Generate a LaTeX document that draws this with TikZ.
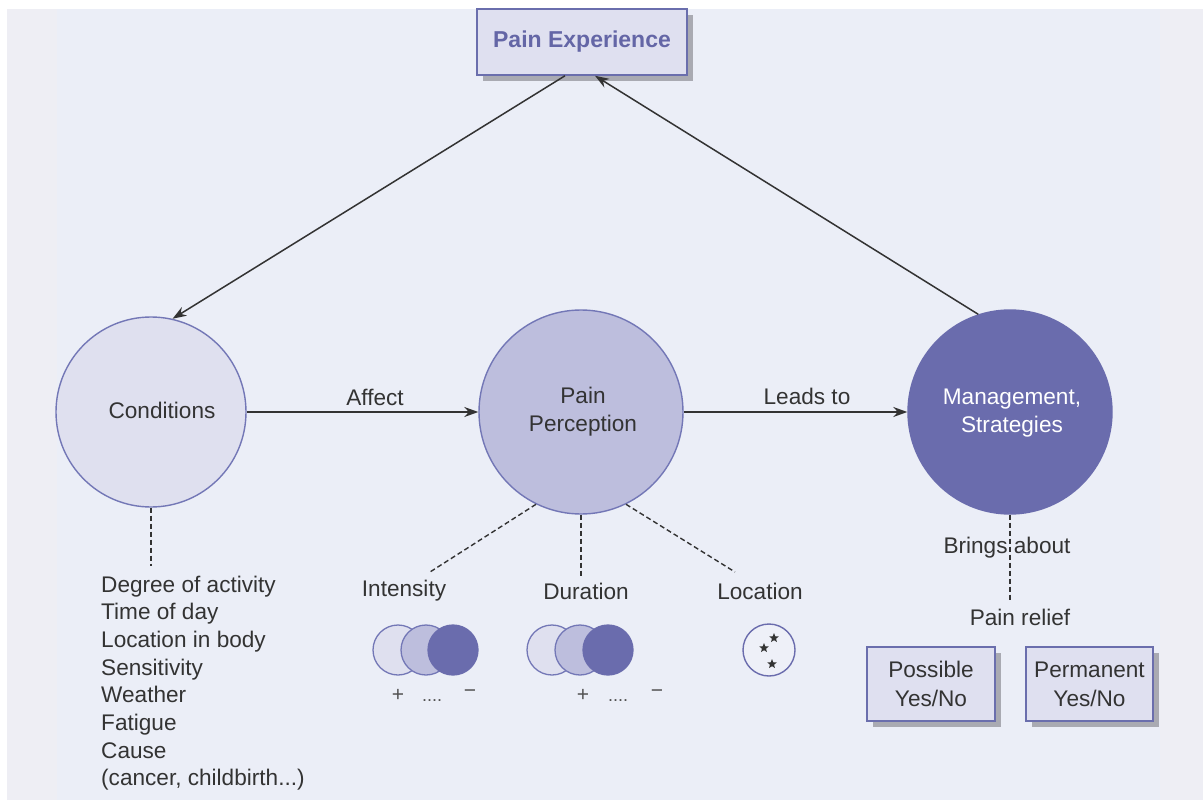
\documentclass[tikz,border=0pt]{standalone}
\usepackage{fontspec}
\setmainfont{Liberation Sans}
\usetikzlibrary{arrows.meta,calc,shadows,shapes.geometric}
\definecolor{bgmain}{HTML}{EBEEF7}
\definecolor{bgside}{HTML}{EEEEF4}
\definecolor{lightfill}{HTML}{DFE0EF}
\definecolor{midfill}{HTML}{BDBEDD}
\definecolor{darkfill}{HTML}{6A6CAD}
\definecolor{rim}{HTML}{7377B6}
\definecolor{boxfill}{HTML}{DFE0F0}
\definecolor{boxrim}{HTML}{6A6EAD}
\definecolor{shade}{HTML}{A9AAB2}
\definecolor{ink}{HTML}{333333}
\definecolor{titleink}{HTML}{6466A6}
\definecolor{locfill}{HTML}{EEF0F8}
\begin{document}
\begin{tikzpicture}[x=1pt,y=-1pt,
  txt/.style={text=ink,font=\fontsize{22.6}{26}\selectfont,inner sep=0pt},
  small/.style={text=ink!85,font=\fontsize{21}{22}\selectfont,inner sep=0pt},
  bigcirc/.style={circle,draw=rim,line width=1.4pt,minimum size=204pt,inner sep=0pt},
  dot/.style={circle,draw=rim,line width=1.3pt,minimum size=50pt,inner sep=0pt},
  shbox/.style={rectangle,draw=boxrim,fill=boxfill,line width=1.5pt,inner sep=0pt,
    drop shadow={shadow xshift=6pt,shadow yshift=-6pt,fill=shade,opacity=1}},
  arr/.style={draw=ink,line width=1.5pt,-{Stealth[length=14pt,width=10pt]}},
  dashline/.style={draw=ink,line width=1.4pt,dash pattern=on 5pt off 3pt},
  starmark/.style={star,star points=5,star point ratio=2.3,fill=ink,minimum size=10pt,inner sep=0pt}]
\useasboundingbox (0,0) rectangle (1203,800);
% backdrop panels
\fill[bgside] (7,9) rectangle (1203,800);
\fill[bgmain] (57,9) rectangle (1160,800);

% title box
\node[shbox,minimum width=210pt,minimum height=66pt] (pe) at (582,42)
  {\textcolor{titleink}{\fontsize{23}{26}\selectfont\bfseries Pain Experience}};

% the three main circles
\node[bigcirc,fill=lightfill,minimum size=190pt] (cond) at (151,412) {};
\node[txt] (condtxt) at (162,410) {Conditions};
\node[bigcirc,fill=midfill] (perc) at (581,412) {};
\node[txt,align=center,font=\fontsize{22.6}{28}\selectfont] (perctxt) at (583,412) {Pain\\Perception};
\node[bigcirc,fill=darkfill,draw=darkfill] (mgmt) at (1010,412) {};
\node[txt,align=center,text=white,font=\fontsize{22.6}{28}\selectfont] (mgmttxt) at (1012,413) {Management,\\Strategies};

% arrows
\coordinate (peL) at ([xshift=-17pt]pe.south);
\coordinate (peR) at ([xshift=13pt]pe.south);
\draw[arr] (peL) -- (cond.77);
\draw[arr] (mgmt.108) -- (peR);
\draw[arr] (cond.east) -- (perc.west);
\draw[arr] (perc.east) -- (mgmt.west);
\node[txt] (affect) at (375,397) {Affect};
\node[txt] (leads) at (807,396) {Leads to};

% dashed links
\coordinate (condEnd) at (151,566);
\coordinate (intEnd) at (430,572);
\coordinate (durEnd) at (581,576);
\coordinate (locEnd) at (735,572);
\coordinate (mgmtEnd) at (1010,601);
\draw[dashline] (cond.south) -- (condEnd);
\draw[dashline] (perc.-116) -- (intEnd);
\draw[dashline] (perc.south) -- (durEnd);
\draw[dashline] (perc.-64) -- (locEnd);
\draw[dashline] (mgmt.south) -- (mgmtEnd);

% list of conditions
\foreach \t [count=\i from 0] in {Degree of activity,Time of day,Location in body,Sensitivity,Weather,Fatigue,Cause}
  \node[txt,anchor=base west] (item\i) at (101,{592+27.7*\i}) {\t};
\node[txt,anchor=base west] (item7) at (101,{592+27.7*7}) {(cancer, childbirth...)};

% aspects of perception
\node[txt] (intensity) at (404,591) {Intensity};
\node[txt] (duration) at (586,591) {Duration};
\node[txt] (location) at (760,591) {Location};

\node[dot,fill=lightfill] (i1) at (398,650) {};
\node[dot,fill=midfill] (i2) at (426,650) {};
\node[dot,fill=darkfill,draw=darkfill] (i3) at (453,650) {};
\node[dot,fill=lightfill] (d1) at (552,650) {};
\node[dot,fill=midfill] (d2) at (580,650) {};
\node[dot,fill=darkfill,draw=darkfill] (d3) at (608,650) {};

\node[small] (ip) at (398,695) {+};
\node[small,anchor=base,font=\fontsize{18}{20}\selectfont] (id) at (432,701) {....};
\node[small] (im) at (470,694) {\textminus};
\node[small] (dp) at (583,695) {+};
\node[small,anchor=base,font=\fontsize{18}{20}\selectfont] (dd) at (618,701) {....};
\node[small] (dm) at (657,694) {\textminus};

\node[circle,draw=darkfill,fill=locfill,line width=1.4pt,minimum size=52pt,inner sep=0pt] (loc) at (769,650) {};
\node[starmark] (s1) at (774,638) {};
\node[starmark] (s2) at (764,648) {};
\node[starmark] (s3) at (772,664) {};

% outcomes of management
\node[txt] (brings) at (1007,548) {Brings about};
\node[txt] (relief) at (1020,617) {Pain relief};
\node[shbox,minimum width=128pt,minimum height=74pt,align=center,text=ink,
  font=\fontsize{22.6}{29}\selectfont] (possible) at (931,684) {Possible\\Yes/No};
\node[shbox,minimum width=127pt,minimum height=74pt,align=center,text=ink,
  font=\fontsize{22.6}{29}\selectfont] (permanent) at (1089.5,684) {Permanent\\Yes/No};
\end{tikzpicture}
\end{document}
